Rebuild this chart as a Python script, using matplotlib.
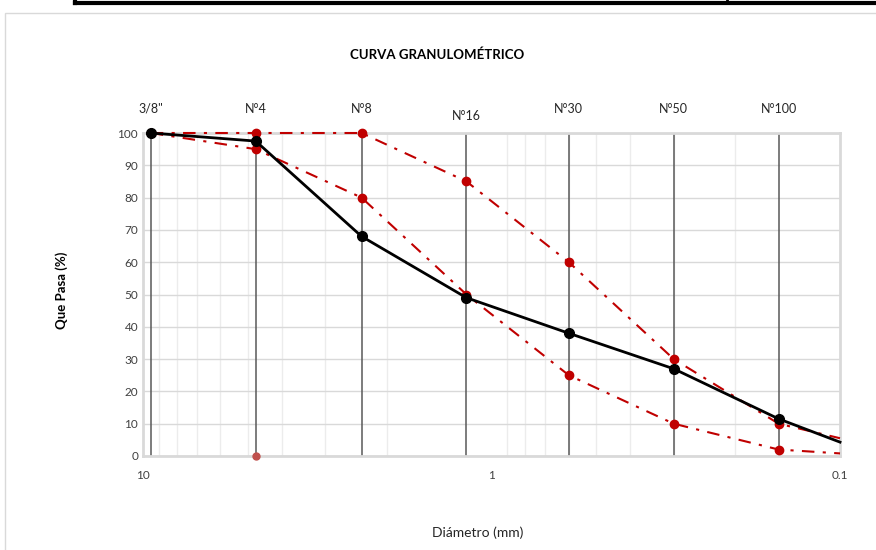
import matplotlib.pyplot as plt
from matplotlib.lines import Line2D
from matplotlib.patches import Rectangle

# sieve openings (mm) and labels
sieve_labels = ['3/8"', "N°4", "N°8", "N°16", "N°30", "N°50", "N°100"]
sieve_mm = [9.5, 4.75, 2.36, 1.18, 0.6, 0.3, 0.15]

# sample curve (black), continues to 0.1 mm
sample_d = [9.5, 4.75, 2.36, 1.18, 0.6, 0.3, 0.15, 0.1]
sample_pct = [100, 97.5, 68, 49, 38, 27, 11.5, 4.3]

# specification limits (red)
upper_d = [9.5, 4.75, 2.36, 1.18, 0.6, 0.3, 0.15, 0.1]
upper_pct = [100, 100, 100, 85, 60, 30, 10, 5.5]
lower_d = [9.5, 4.75, 2.36, 1.18, 0.6, 0.3, 0.15, 0.1]
lower_pct = [100, 95, 80, 50, 25, 10, 2, 0.8]

red = "#c00000"

fig = plt.figure(figsize=(8.76, 5.5), dpi=100)
plt.rcParams["font.family"] = ["Lato", "DejaVu Sans"]

# frame pieces around the chart (page table above, chart border)
fig.add_artist(Line2D([75 / 876, 1], [1 - 3 / 550, 1 - 3 / 550], color="black", lw=3))
fig.add_artist(Line2D([75 / 876, 75 / 876], [1 - 3 / 550, 1], color="black", lw=3))
fig.add_artist(Line2D([727 / 876, 727 / 876], [1 - 3 / 550, 1], color="black", lw=2))
fig.add_artist(Rectangle((5 / 876, -0.01), 1, 1 - 13 / 550 + 0.01, fill=False,
                         edgecolor="#d9d9d9", lw=1))

ax = fig.add_axes([143 / 876, 1 - 456 / 550, 697 / 876, 323 / 550])
ax.set_xscale("log")
ax.set_xlim(10, 0.1)
ax.set_ylim(0, 100)

ax.set_yticks(range(0, 101, 10))
ax.set_xticks([10, 1, 0.1])
ax.set_xticklabels(["10", "1", "0.1"])
ax.tick_params(axis="both", which="both", length=0, colors="#404040", labelsize=8.5)
ax.tick_params(axis="x", pad=10)
ax.grid(True, which="major", axis="y", color="#d9d9d9", lw=1)
ax.grid(True, which="minor", axis="x", color="#ececec", lw=1)
for s in ax.spines.values():
    s.set_color("#d9d9d9")
    s.set_linewidth(2)

# sieve vertical lines
for d in sieve_mm:
    ax.axvline(d, color="#595959", lw=1.1, zorder=2)

dashdot = (0, (6, 4, 1.5, 4))
ax.plot(upper_d, upper_pct, color=red, lw=1.5, ls=dashdot, marker="o", ms=6,
        markevery=list(range(7)), zorder=5, clip_on=False)
ax.plot(lower_d, lower_pct, color=red, lw=1.5, ls=dashdot, marker="o", ms=6,
        markevery=list(range(7)), zorder=5, clip_on=False)
ax.plot(sample_d, sample_pct, color="black", lw=2, marker="o", ms=7,
        markevery=list(range(7)), zorder=6, clip_on=False)
ax.plot([4.75], [0], "o", color="#c0504d", ms=5, zorder=6, clip_on=False)

# sieve labels above the plot
for lab, d in zip(sieve_labels, sieve_mm):
    yy = 1.035 if lab == "N°16" else 1.057
    ax.text(d, yy, lab, transform=ax.get_xaxis_transform(), ha="center",
            va="bottom", fontsize=9, color="#262626")

fig.text(437 / 876, 1 - 55 / 550, "CURVA GRANULOMÉTRICO", ha="center",
         va="center", fontsize=9.5, fontweight="bold")
fig.text(62 / 876, 1 - 290 / 550, "Que Pasa (%)", rotation=90, ha="center",
         va="center", fontsize=9.5, fontweight="bold")
fig.text(478 / 876, 1 - 533 / 550, "Diámetro (mm)", ha="center", va="center",
         fontsize=10, color="#262626")

fig.savefig("out.png", dpi=100)
